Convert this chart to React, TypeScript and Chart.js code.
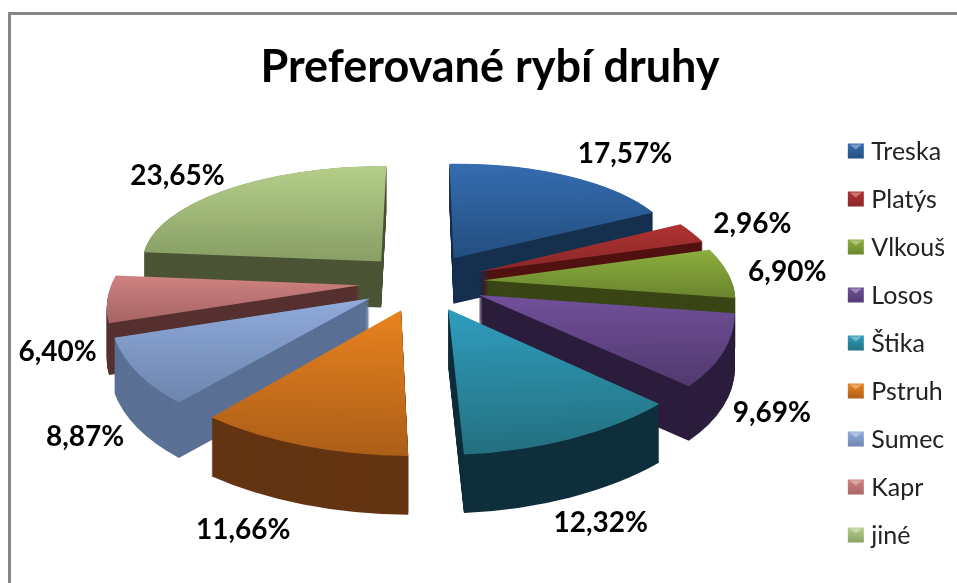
import React, { useEffect, useRef } from "react";
import { Chart, registerables } from "chart.js";

Chart.register(...registerables);

const categories = ["Treska", "Platýs", "Vlkouš", "Losos", "Štika", "Pstruh", "Sumec", "Kapr", "jiné"];
const shares = [17.57, 2.96, 6.9, 9.69, 12.32, 11.66, 8.87, 6.4, 23.65];
const chartTitle = "Preferované rybí druhy";

const topLight = ["#356DB2", "#B03232", "#8DAE3E", "#71509A", "#2F9DBE", "#E9831F", "#90ABDC", "#D08282", "#B5CF8A"];
const topDark = ["#234E7E", "#882727", "#6A852E", "#51396E", "#23707F", "#AC5E18", "#6D86AE", "#A66363", "#889E65"];
const sideColor = ["#16304F", "#521212", "#3A4516", "#2C1D3D", "#0F2F3C", "#643413", "#5B7095", "#573030", "#4B5435"];
// Label placement corrections relative to the elliptical label ring.
const labelNudge = [[0, 0], [-24, -6], [-14, -15], [8, 15], [18, 3], [-66, 0], [-37, 9], [-3, 28], [-1, 5]];

// Perspective view of the exploded disc (radius 1, explosion 0.25).
const VIEW = { cx: 422, cy: 282, a: 248, b: 115, k: 0.148, explode: 0.25, depth: 51 };
const persp = (Y: number) => 1 / (1 + VIEW.k * Y);
const project = (X: number, Y: number) => ({
  x: VIEW.cx + VIEW.a * X * persp(Y),
  y: VIEW.cy - VIEW.b * Y * persp(Y),
});

const pie3d = {
  id: "pie3d",
  beforeDatasetsDraw(chart: any) {
    const ctx = chart.ctx;
    const arcs = chart.getDatasetMeta(0).data;
    const slices = arcs.map((arc: any, i: number) => {
      const mid = (arc.startAngle + arc.endAngle) / 2 + Math.PI / 2;
      return { arc, i, sin: Math.sin(mid), cos: Math.cos(mid) };
    });
    const order = [...slices].sort((a, b) => b.cos - a.cos);
    for (const s of order) {
      const { arc, i, sin, cos } = s;
      const R = arc.outerRadius;
      const ox = VIEW.explode * sin;
      const oy = VIEW.explode * cos;
      const P0 = project(ox, oy);
      const rim = (ang: number) => project(ox + Math.cos(ang), oy - Math.sin(ang));
      const Ps = rim(arc.startAngle);
      const Pe = rim(arc.endAngle);
      const us = Math.cos(arc.startAngle) * R;
      const vs = Math.sin(arc.startAngle) * R;
      const ue = Math.cos(arc.endAngle) * R;
      const ve = Math.sin(arc.endAngle) * R;
      const det = us * ve - ue * vs;
      const x1 = Ps.x - P0.x, y1 = Ps.y - P0.y, x2 = Pe.x - P0.x, y2 = Pe.y - P0.y;
      const a = (x1 * ve - x2 * vs) / det;
      const c = (x2 * us - x1 * ue) / det;
      const b = (y1 * ve - y2 * vs) / det;
      const d = (y2 * us - y1 * ue) / det;
      const place = (dy: number) => {
        ctx.setTransform(a, b, c, d, P0.x - a * arc.x - c * arc.y, P0.y + dy - b * arc.x - d * arc.y);
      };
      const depth = VIEW.depth * persp(oy + 0.7 * cos);
      const saved = arc.options;
      ctx.save();
      arc.options = { ...saved, backgroundColor: sideColor[i], borderWidth: 0 };
      for (let dy = depth; dy > 0; dy -= 1) {
        place(dy);
        arc.draw(ctx);
      }
      let lo = 0;
      let hi = 0;
      for (let t = 0; t <= 20; t++) {
        const ang = arc.startAngle + ((arc.endAngle - arc.startAngle) * t) / 20;
        const y = Math.sin(ang) * R;
        lo = Math.min(lo, y);
        hi = Math.max(hi, y);
      }
      place(0);
      const g = ctx.createLinearGradient(0, arc.y + lo, 0, arc.y + hi);
      g.addColorStop(0, topLight[i]);
      g.addColorStop(1, topDark[i]);
      arc.options = { ...saved, backgroundColor: g, borderWidth: 0 };
      arc.draw(ctx);
      arc.options = saved;
      ctx.restore();
    }
    ctx.save();
    ctx.font = "bold 28px Lato";
    ctx.fillStyle = "#000";
    ctx.textAlign = "center";
    ctx.textBaseline = "middle";
    for (const s of slices) {
      const text = shares[s.i].toFixed(2).replace(".", ",") + "%";
      const x = 430 + 372 * s.sin + labelNudge[s.i][0];
      const y = 300 - (205 - 40 * s.cos) * s.cos + labelNudge[s.i][1];
      ctx.fillText(text, x, y);
    }
    ctx.restore();
    return false;
  },
};

const frame = {
  id: "frame",
  beforeDraw(chart: any) {
    const ctx = chart.ctx;
    ctx.save();
    ctx.fillStyle = "#fff";
    ctx.fillRect(0, 0, chart.width, chart.height);
    ctx.strokeStyle = "#868686";
    ctx.lineWidth = 3;
    ctx.strokeRect(9.5, 13.5, chart.width + 20, chart.height + 20);
    ctx.restore();
  },
};

const legendMarks = {
  id: "legendMarks",
  afterDraw(chart: any) {
    const ctx = chart.ctx;
    const boxes = chart.legend.legendHitBoxes;
    ctx.save();
    boxes.forEach((h: any, i: number) => {
      const x = h.left - 1;
      const y = h.top + h.height / 2 - 8;
      const g = ctx.createLinearGradient(0, y, 0, y + 16);
      g.addColorStop(0, topLight[i]);
      g.addColorStop(1, topDark[i]);
      ctx.fillStyle = g;
      ctx.fillRect(x, y, 16, 15);
      ctx.fillStyle = "rgba(255,255,255,0.35)";
      ctx.beginPath();
      ctx.moveTo(x + 2, y + 1);
      ctx.lineTo(x + 14, y + 1);
      ctx.lineTo(x + 8, y + 6);
      ctx.closePath();
      ctx.fill();
    });
    ctx.restore();
  },
};

export default function App() {
  const ref = useRef<HTMLCanvasElement>(null);
  useEffect(() => {
    const chart = new Chart(ref.current!, {
      type: "pie",
      data: {
        labels: categories,
        datasets: [{ data: shares, backgroundColor: topDark, borderWidth: 0 }],
      },
      options: {
        animation: false,
        responsive: false,
        layout: { padding: { left: 25, right: 2, top: 0, bottom: 12 } },
        plugins: {
          tooltip: { enabled: false },
          title: {
            display: true,
            text: chartTitle,
            color: "#000",
            font: { family: "Lato", size: 45, weight: "bold" },
            padding: { top: 40, bottom: 10 },
          },
          legend: {
            position: "right",
            align: "end",
            labels: {
              color: "#222",
              font: { family: "Lato", size: 25 },
              boxWidth: 10,
              boxHeight: 14,
              padding: 23,
              generateLabels: (c: any) =>
                c.data.labels.map((text: string, i: number) => ({
                  text,
                  index: i,
                  fillStyle: "rgba(0,0,0,0)",
                  strokeStyle: "rgba(0,0,0,0)",
                  lineWidth: 0,
                  fontColor: "#222",
                  hidden: false,
                })),
            },
          },
        },
      },
      plugins: [pie3d, frame, legendMarks],
    });
    return () => chart.destroy();
  }, []);
  return (
    <canvas
      ref={ref}
      width={957}
      height={583}
      style={{ position: "absolute", left: 0, top: 0, width: 957, height: 583, display: "block" }}
    />
  );
}
